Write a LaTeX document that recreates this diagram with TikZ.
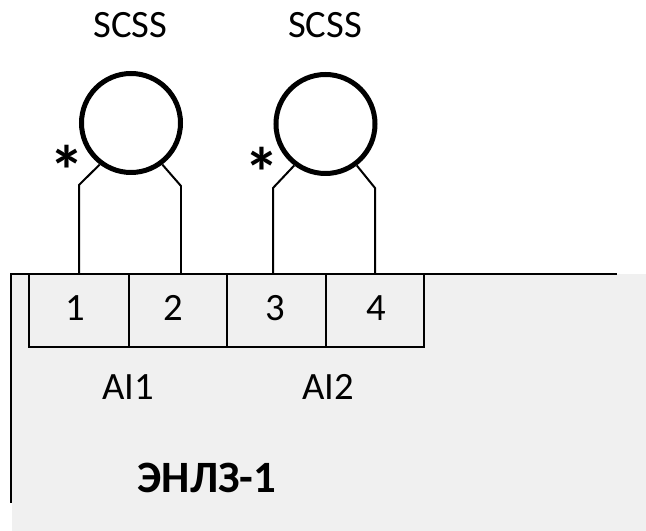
\documentclass[tikz,border=0pt]{standalone}
\usepackage{fontspec}
\setmainfont{Carlito}
\usepackage{xcolor}
\usepackage{tikz}
\definecolor{panelgray}{HTML}{F0F0F0}
\tikzset{
	terminal/.style={draw, line width=0.04cm, fill=panelgray, minimum height=1.46cm, inner sep=0pt},
	sensor/.style={draw, circle, line width=0.1cm, minimum size=1.98cm, inner sep=0pt},
	caption/.style={anchor=base, font=\fontsize{22}{24}\selectfont},
	polarity/.style={font=\fontsize{40}{40}\selectfont\bfseries},
	wire/.style={line width=0.04cm}
}
\begin{document}
\begin{tikzpicture}
	\useasboundingbox (0,0) rectangle (12.92,10.62);
	% Draw the panel
	\fill[panelgray] (0.24,0) rectangle (12.92,5.14);
	\draw[line width=0.05cm] (0.22,0.56) -- (0.22,5.14) -- (12.34,5.14);
	
	% Terminals
	\node[terminal, minimum width=2cm] (t1) at (1.58,4.41) {};
	\node[terminal, minimum width=1.96cm] (t2) at (3.56,4.41) {};
	\node[terminal, minimum width=1.98cm] (t3) at (5.53,4.41) {};
	\node[terminal, minimum width=1.96cm] (t4) at (7.50,4.41) {};
	\node[caption] (n1) at (1.50,4.20) {1};
	\node[caption] (n2) at (3.46,4.20) {2};
	\node[caption] (n3) at (5.50,4.20) {3};
	\node[caption] (n4) at (7.52,4.20) {4};
	
	% Sensors
	\node[sensor] (s1) at (2.62,8.16) {};
	\node[sensor] (s2) at (6.51,8.14) {};
	\node[caption] (c1) at (2.61,9.86) {SCSS};
	\node[caption] (c2) at (6.50,9.86) {SCSS};
	\node[polarity] (m1) at (1.34,7.22) {*};
	\node[polarity] (m2) at (5.25,7.18) {*};
	
	% Bends of the wires
	\coordinate (b1) at (1.58,6.92);
	\coordinate (b2) at (3.62,6.90);
	\coordinate (b3) at (5.46,6.86);
	\coordinate (b4) at (7.50,6.86);
	
	% Wires
	\draw[wire] (s1.-127) -- (b1) -- (b1 |- t1.north);
	\draw[wire] (s1.-53) -- (b2) -- (b2 |- t2.north);
	\draw[wire] (s2.-127) -- (b3) -- (b3 |- t3.north);
	\draw[wire] (s2.-53) -- (b4) -- (b4 |- t4.north);
	
	% Labels
	\node[caption] (a1) at (2.56,2.62) {AI1};
	\node[caption] (a2) at (6.56,2.62) {AI2};
	\node[font=\fontsize{25.5}{27}\selectfont\bfseries, anchor=base west] (d1) at (2.63,0.76) {ЭНЛЗ-1};
\end{tikzpicture}
\end{document}
